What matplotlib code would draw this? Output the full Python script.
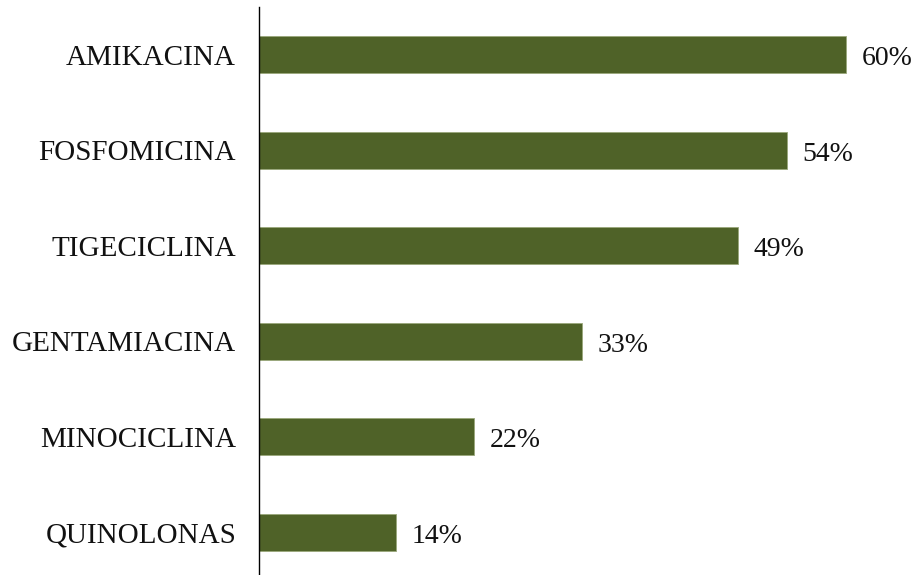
import matplotlib.pyplot as plt
import numpy as np

# data
antibioticos = ['AMIKACINA', 'FOSFOMICINA', 'TIGECICLINA',
                'GENTAMIACINA', 'MINOCICLINA', 'QUINOLONAS']
porcentajes = [60, 54, 49, 33, 22, 14]

plt.rcParams['font.family'] = ['Liberation Serif', 'DejaVu Serif']

fig = plt.figure(figsize=(9.2, 5.75), dpi=100)
ax = fig.add_axes([259/920, -5/575, 661/920, 573/575])

y = np.arange(len(antibioticos))
ax.barh(y, porcentajes, height=0.39, color='#4F6228',
        edgecolor='#9aa77a', linewidth=0.6)

for yi, v in zip(y, porcentajes):
    ax.text(v + 1.6, yi + 0.04, f'{v}%', va='center', ha='left',
            fontsize=20, color='#111111')

ax.set_ylim(len(antibioticos) - 0.5, -0.5)
ax.set_xlim(0, 661/9.78)
ax.set_yticks(y)
ax.set_yticklabels(antibioticos, fontsize=21, color='#111111')
ax.tick_params(axis='y', length=0, pad=16.5)
ax.set_xticks([])

for s in ['top', 'right', 'bottom']:
    ax.spines[s].set_visible(False)
ax.spines['left'].set_linewidth(1.0)
ax.spines['left'].set_color('black')

fig.savefig('out.png', dpi=100)
